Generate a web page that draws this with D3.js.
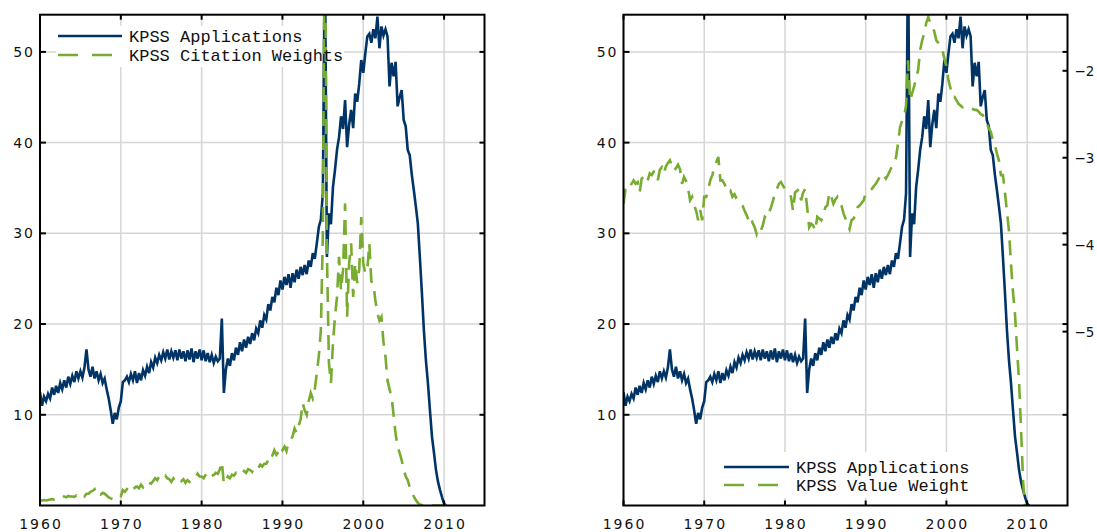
<!DOCTYPE html>
<html lang="en">
<head>
<meta charset="UTF-8">
<title>KPSS applications and weights</title>
<script src="https://d3js.org/d3.v7.min.js"></script>
<style>
  body { margin: 0; background: #fff; }
  .tick-label { font-family: "DejaVu Sans", sans-serif; font-size: 14px; letter-spacing: 2px; fill: #111; }
  .right-label { font-family: "DejaVu Sans", sans-serif; font-size: 13.5px; fill: #111; }
  .legend-text { font-family: "Liberation Mono", monospace; font-size: 17px; fill: #111; }
</style>
</head>
<body>
<script>
var width = 1097, height = 532;
var startYear = 1960, perYear = 4;   // quarterly observations

// KPSS Applications (left axis), one row per year
var applications = [
  12.5, 11.0, 12.0, 11.5,   // 1960
  12.3, 11.8, 13.0, 12.2,
  13.2, 12.4, 13.5, 12.8,
  13.8, 13.0, 14.2, 13.4,
  14.3, 13.6, 14.8, 14.0,
  14.8, 14.1, 15.2, 17.2,   // 1965
  15.0, 14.2, 15.3, 14.0,
  14.8, 13.8, 14.5, 13.5,
  14.0, 12.8, 11.8, 10.5,
  9.0, 10.2, 9.5, 10.8,
  11.5, 13.6, 13.8, 14.2,   // 1970
  13.6, 14.5, 13.8, 14.8,
  13.5, 14.6, 13.8, 14.9,
  14.3, 15.3, 14.6, 15.8,
  15.2, 16.3, 15.7, 16.6,
  16.0, 16.9, 16.2, 17.2,   // 1975
  16.1, 17.0, 16.3, 17.1,
  16.0, 17.2, 16.2, 17.0,
  15.9, 17.1, 16.1, 17.3,
  15.8, 17.0, 16.2, 17.2,
  16.0, 17.1, 15.9, 16.8,   // 1980
  15.8, 16.6, 15.7, 16.4,
  15.9, 16.2, 20.6, 12.4,
  15.0, 16.2, 15.4, 16.8,
  16.0, 17.4, 16.6, 18.0,
  17.0, 18.3, 17.4, 18.6,   // 1985
  17.8, 19.0, 18.2, 19.5,
  19.0, 20.4, 19.6, 21.0,
  20.5, 22.2, 21.5, 23.0,
  22.4, 24.0, 23.2, 24.8,
  23.8, 25.2, 24.3, 25.5,   // 1990
  24.0, 25.6, 24.6, 26.0,
  25.0, 26.3, 25.4, 26.5,
  25.5, 27.0, 26.3, 27.8,
  27.2, 28.9, 30.7, 31.5,
  34.4, 62.0, 27.4, 32.2,   // 1995
  31.0, 35.1, 37.0, 39.2,
  40.6, 42.9, 41.5, 44.7,
  39.5, 42.0, 43.6, 41.6,
  45.4, 44.5, 46.5, 49.1,
  47.7, 49.8, 51.7, 52.0,   // 2000
  51.0, 52.5, 51.5, 53.9,
  50.4, 52.8, 51.8, 52.5,
  51.7, 46.2, 48.8, 47.3,
  48.9, 44.0, 45.0, 45.8,
  42.5, 41.8, 39.2, 38.6,   // 2005
  36.5, 34.8, 33.0, 31.1,
  27.4, 23.5, 19.3, 16.0,
  13.5, 10.5, 7.6, 5.8,
  3.9, 2.6, 1.7, 0.9,
  0.2, 0.0                  // 2010
];

// KPSS Citation Weights (left panel, left axis)
var citationWeights = [
  0.5, 0.55, 0.6, 0.55,     // 1960
  0.6, 0.65, 0.7, 0.67,
  0.8, 0.9, 0.85, 1.0,
  1.0, 0.9, 1.05, 1.0,
  1.0, 0.95, 1.1, 0.96,
  1.1, 1.2, 1.0, 1.3,       // 1965
  1.3, 1.5, 1.6, 1.8,
  1.15, 1.3, 1.2, 1.4,
  1.3, 1.1, 0.9, 0.78,
  0.7, 0.6, 0.6, 0.8,
  1.0, 1.7, 1.5, 1.8,       // 1970
  1.6, 1.9, 1.7, 2.0,
  2.1, 1.9, 2.3, 2.0,
  2.25, 2.1, 2.5, 2.4,
  2.7, 3.0, 2.8, 3.2,
  3.35, 3.1, 3.3, 3.0,      // 1975
  2.9, 2.6, 3.0, 2.7,
  2.8, 3.0, 2.7, 2.9,
  2.5, 2.8, 2.6, 2.8,
  2.8, 3.1, 3.5, 3.2,
  3.2, 3.0, 3.4, 3.7,       // 1980
  3.7, 3.3, 3.35, 3.6,
  3.5, 4.0, 4.8, 2.4,
  2.7, 3.2, 3.0, 3.4,
  3.3, 3.6, 3.5, 3.7,
  3.5, 3.8, 3.6, 4.0,       // 1985
  3.9, 3.7, 4.2, 4.0,
  4.1, 4.5, 4.3, 4.6,
  4.6, 5.0, 4.8, 5.5,
  6.1, 5.6, 5.9, 6.5,
  6.1, 6.5, 6.0, 7.0,       // 1990
  7.2, 7.6, 8.5, 8.0,
  8.8, 9.5, 11.3, 10.5,
  10.0, 11.5, 12.4, 11.8,
  12.8, 14.6, 16.5, 19.3,
  30.0, 70.0, 28.0, 15.7,   // 1995
  13.5, 17.9, 20.8, 23.0,
  27.4, 23.7, 26.0, 33.3,
  20.8, 26.7, 28.9, 23.0,
  26.7, 24.5, 26.0, 31.8,
  26.7, 25.6, 26.0, 28.9,   // 2000
  24.7, 24.5, 22.6, 21.2,
  20.4, 20.8, 18.0, 16.4,
  13.8, 12.8, 12.0, 10.0,
  7.9, 6.5, 5.8, 5.0,
  4.0, 3.2, 2.8, 2.0,       // 2005
  1.5, 1.0, 0.6, 0.3,
  0.1, 0.05, 0.0, 0.0,
  0.0, 0.0, 0.0, 0.0,
  0.0, 0.0, 0.0, 0.0,
  0.0, 0.0                  // 2010
];

// KPSS Value Weight (right panel, right axis)
var valueWeight = [
  -3.53, -3.36, -3.32, -3.34,   // 1960
  -3.30, -3.26, -3.30, -3.28,
  -3.40, -3.24, -3.22, -3.20,
  -3.26, -3.18, -3.20, -3.16,
  -3.16, -3.26, -3.14, -3.11,
  -3.18, -3.10, -3.06, -3.03,   // 1965
  -3.10, -3.15, -3.12, -3.08,
  -3.13, -3.30, -3.22, -3.27,
  -3.35, -3.49, -3.45, -3.55,
  -3.61, -3.72, -3.60, -3.72,
  -3.45, -3.45, -3.36, -3.26,   // 1970
  -3.20, -3.11, -3.05, -2.99,
  -3.26, -3.26, -3.30, -3.35,
  -3.40, -3.38, -3.45, -3.42,
  -3.47, -3.49, -3.52, -3.55,
  -3.61, -3.66, -3.72, -3.68,   // 1975
  -3.75, -3.80, -3.88, -3.82,
  -3.84, -3.78, -3.68, -3.70,
  -3.63, -3.58, -3.50, -3.41,
  -3.36, -3.30, -3.28, -3.32,
  -3.36, -3.38, -3.41, -3.45,   // 1980
  -3.61, -3.40, -3.38, -3.36,
  -3.49, -3.40, -3.36, -3.57,
  -3.80, -3.76, -3.78, -3.84,
  -3.68, -3.70, -3.72, -3.66,
  -3.57, -3.55, -3.40, -3.45,   // 1985
  -3.53, -3.48, -3.45, -3.50,
  -3.55, -3.64, -3.70, -3.76,
  -3.82, -3.72, -3.70, -3.66,
  -3.57, -3.55, -3.52, -3.49,
  -3.41, -3.40, -3.38, -3.36,   // 1990
  -3.33, -3.30, -3.26, -3.22,
  -3.24, -3.20, -3.24, -3.20,
  -3.15, -3.10, -3.07, -3.00,
  -2.84, -2.65, -2.58, -2.53,
  -2.40, -1.88, -2.34, -2.26,   // 1995
  -2.18, -2.08, -1.99, -1.76,
  -1.65, -1.57, -1.45, -1.38,
  -1.45, -1.47, -1.55, -1.65,
  -1.68, -1.72, -1.76, -1.86,
  -1.95, -2.11, -2.20, -2.30,   // 2000
  -2.30, -2.34, -2.38, -2.40,
  -2.42, -2.41, -2.42, -2.43,
  -2.43, -2.44, -2.45, -2.45,
  -2.47, -2.50, -2.51, -2.55,
  -2.61, -2.66, -2.70, -2.80,   // 2005
  -2.85, -2.95, -3.03, -3.20,
  -3.20, -3.40, -3.62, -3.84,
  -4.22, -4.55, -4.80, -5.20,
  -5.57, -6.14, -6.72, -7.05
];

var xTicks = [1960, 1970, 1980, 1990, 2000, 2010];
var yTicks = [10, 20, 30, 40, 50];
var rightTicks = [-2, -3, -4, -5];
var blue = "#003366", green = "#77ac30", grid = "#d6d6d6";

var svg = d3.select("body").append("svg")
  .attr("width", width).attr("height", height)
  .style("display", "block");

function toSeries(arr) {
  return arr.map(function (v, i) { return { year: startYear + i / perYear, v: v }; });
}

function drawPanel(p) {
  var x = d3.scaleLinear().domain([1960, 2015]).range([p.left, p.right]);
  var y = d3.scaleLinear().domain([0, 54.1]).range([p.bottom, p.top]);
  var y2 = p.y2domain ? d3.scaleLinear().domain(p.y2domain).range([p.bottom, p.top]) : y;
  var g = svg.append("g");

  // gridlines
  g.selectAll(".vg").data(xTicks).enter().append("line")
    .attr("x1", x).attr("x2", x).attr("y1", p.top).attr("y2", p.bottom)
    .attr("stroke", grid).attr("stroke-width", 1.5);
  g.selectAll(".hg").data(yTicks).enter().append("line")
    .attr("x1", p.left).attr("x2", p.right).attr("y1", y).attr("y2", y)
    .attr("stroke", grid).attr("stroke-width", 1.5);

  // legend background hides the grid behind it
  g.append("rect").attr("x", p.legend.x).attr("y", p.legend.y)
    .attr("width", p.legend.w).attr("height", p.legend.h).attr("fill", "#fff");

  var clipId = "clip" + Math.round(p.left);
  svg.append("clipPath").attr("id", clipId).append("rect")
    .attr("x", p.left).attr("y", p.top).attr("width", p.right - p.left).attr("height", p.bottom - p.top);

  var lines = g.append("g").attr("clip-path", "url(#" + clipId + ")");
  lines.append("path").datum(toSeries(applications))
    .attr("fill", "none").attr("stroke", blue).attr("stroke-width", 2.6)
    .attr("d", d3.line().x(function (d) { return x(d.year); }).y(function (d) { return y(d.v); }));
  lines.append("path").datum(toSeries(p.greenData))
    .attr("fill", "none").attr("stroke", green).attr("stroke-width", 2.6)
    .attr("stroke-dasharray", "15,9")
    .attr("d", d3.line().x(function (d) { return x(d.year); }).y(function (d) { return y2(d.v); }));

  // box
  g.append("rect").attr("x", p.left).attr("y", p.top)
    .attr("width", p.right - p.left).attr("height", p.bottom - p.top)
    .attr("fill", "none").attr("stroke", "#000").attr("stroke-width", 2);

  // inward ticks
  var tk = 5;
  xTicks.forEach(function (t) {
    g.append("line").attr("x1", x(t)).attr("x2", x(t)).attr("y1", p.bottom).attr("y2", p.bottom - tk)
      .attr("stroke", "#000").attr("stroke-width", 2);
    g.append("line").attr("x1", x(t)).attr("x2", x(t)).attr("y1", p.top).attr("y2", p.top + tk)
      .attr("stroke", "#000").attr("stroke-width", 2);
    g.append("text").attr("class", "tick-label").attr("x", x(t) + 1).attr("y", 529)
      .attr("text-anchor", "middle").text(t);
  });
  yTicks.forEach(function (t) {
    g.append("line").attr("x1", p.left).attr("x2", p.left + tk + 1).attr("y1", y(t)).attr("y2", y(t))
      .attr("stroke", "#000").attr("stroke-width", 2);
    g.append("line").attr("x1", p.right).attr("x2", p.right - tk).attr("y1", y(t)).attr("y2", y(t))
      .attr("stroke", "#000").attr("stroke-width", 2);
    g.append("text").attr("class", "tick-label").attr("x", p.left - 5).attr("y", y(t) + 5)
      .attr("text-anchor", "end").text(t);
  });
  if (p.y2domain) {
    rightTicks.forEach(function (t) {
      g.append("line").attr("x1", p.right).attr("x2", p.right - tk).attr("y1", y2(t)).attr("y2", y2(t))
        .attr("stroke", "#000").attr("stroke-width", 2);
      g.append("text").attr("class", "right-label").attr("x", p.right + 7).attr("y", y2(t) + 5)
        .text("\u2212" + Math.abs(t));
    });
  }

  // legend
  var L = p.legend;
  var entries = [
    { name: "KPSS Applications", color: blue, dash: null },
    { name: p.greenName, color: green, dash: "20,14" }
  ];
  entries.forEach(function (e, i) {
    var ly = L.lineY + i * L.gap;
    g.append("line").attr("x1", L.lineX).attr("x2", L.lineX + L.lineLen).attr("y1", ly).attr("y2", ly)
      .attr("stroke", e.color).attr("stroke-width", 2.6)
      .attr("stroke-dasharray", e.dash);
    g.append("text").attr("class", "legend-text").attr("x", L.textX).attr("y", ly + 5.5).text(e.name);
  });
}

drawPanel({
  left: 40, right: 484.5, top: 14.7, bottom: 505.5,
  greenData: citationWeights, greenName: "KPSS Citation Weights",
  legend: { x: 56, y: 26, w: 288, h: 41, lineX: 58, lineLen: 64, textX: 129, lineY: 36, gap: 19 }
});

drawPanel({
  left: 623.5, right: 1067.5, top: 14.7, bottom: 505.5,
  greenData: valueWeight, greenName: "KPSS Value Weight", y2domain: [-7.0, -1.355],
  legend: { x: 719, y: 452, w: 255, h: 46, lineX: 724, lineLen: 65, textX: 796, lineY: 467, gap: 18 }
});
</script>
</body>
</html>
